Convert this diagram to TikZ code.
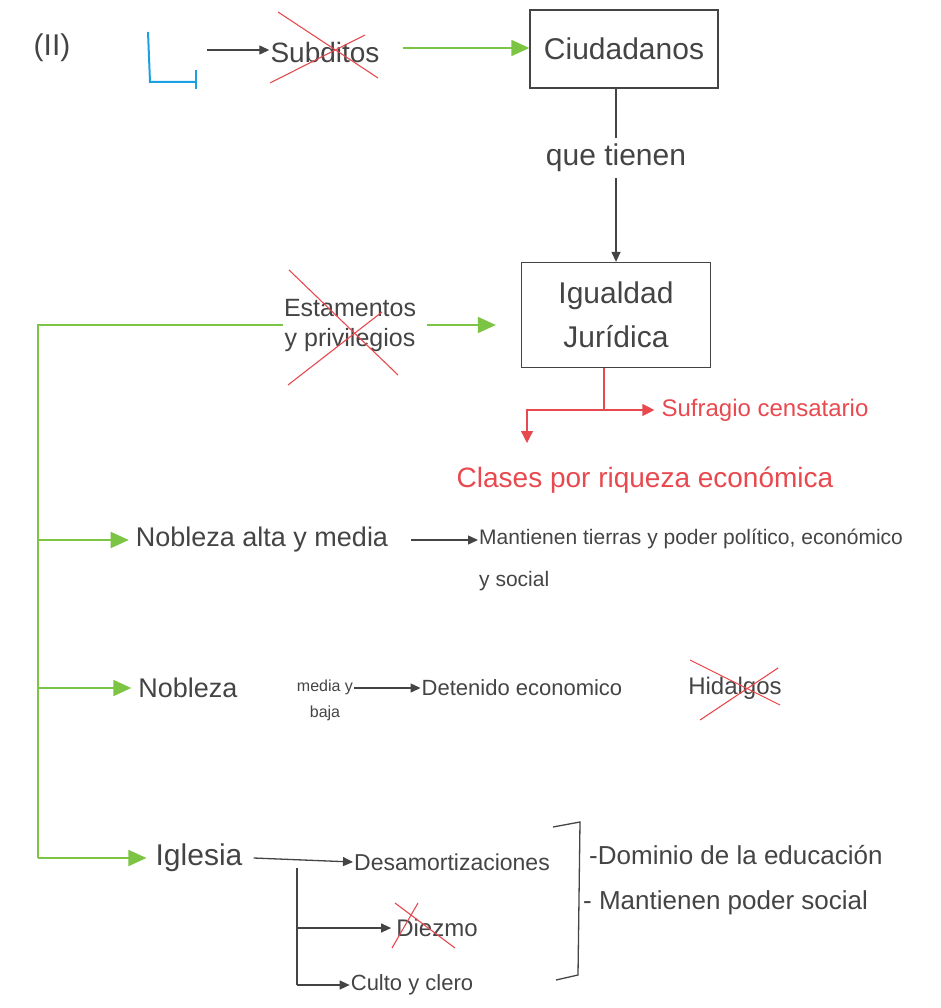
\documentclass[tikz,border=0pt]{standalone}
\usepackage{fontspec}
\setmainfont{Liberation Sans}
\usetikzlibrary{arrows.meta,calc}
\definecolor{ink}{HTML}{444444}
\definecolor{gr}{HTML}{7CC444}
\definecolor{rd}{HTML}{E8494F}
\definecolor{bl}{HTML}{1BA1E2}
\begin{document}
\begin{tikzpicture}[x=1pt,y=-1pt,
  fs/.style={font=\fontsize{#1}{30}\selectfont},
  txt/.style={inner sep=1pt,text=ink},
  rtxt/.style={inner sep=1pt,text=rd},
  boxnode/.style={draw=ink,line width=1.3pt,align=center,text=ink},
  inkline/.style={draw=ink,line width=1.3pt},
  barrow/.style={inkline,-{Triangle[length=10pt,width=9pt]}},
  gline/.style={draw=gr,line width=1.8pt},
  garrow/.style={gline,-{Triangle[length=18pt,width=16pt]}},
  rline/.style={draw=rd,line width=1.3pt},
  rarrow/.style={rline,-{Triangle[length=12pt,width=12pt]}},
  xout/.style={draw=rd,line width=1.1pt}]
\useasboundingbox (0,0) rectangle (941,1008);

% header
\node[txt,fs=30] (num) at (52,48) {(II)};
\draw[draw=bl,line width=2pt] (148,32) -- (150,82) -- (196,82);
\draw[draw=bl,line width=2pt] (196,70) -- (196,89);
\coordinate (Lmark) at (207,50);
\node[txt,fs=28] (subd) at (325,52) {Subditos};
\draw[xout] (278,12) -- (378,78);
\draw[xout] (270,83) -- (365,35);
\draw[barrow] (Lmark) -- (Lmark -| subd.west);

\node[boxnode,fs=30,minimum width=188pt,minimum height=78pt] (ciud) at (624,49) {Ciudadanos};
\path (subd.east) ++(22,-4) coordinate (g0);
\draw[garrow] (g0) -- (g0 -| ciud.west);

\node[boxnode,fs=30,minimum width=189pt,minimum height=105pt] (igual) at (616,315) {Igualdad\\[14pt]Jurídica};
\draw[barrow] (ciud.south -| igual.north) -- node[fill=white,txt,fs=30,pos=0.4,inner sep=6pt] (qt) {que tienen} (igual.north);

% estamentos
\node[txt,fs=25,align=center] (est) at (350,325) {Estamentos\\y privilegios};
\draw[xout] (289,270) -- (398,375);
\draw[xout] (288,385) -- (382,312);
\path (est.east) ++(10,0) coordinate (g1);
\draw[garrow] (g1) -- ([xshift=-25pt]g1 -| igual.west);

% red branch
\node[rtxt,fs=24] (suf) at (765,410) {Sufragio censatario};
\node[rtxt,fs=28] (clases) at (645,480) {Clases por riqueza económica};
\path (igual.south) ++(-12,0) coordinate (rt);
\coordinate (rj) at (rt |- suf.west);
\draw[rline] (rt) -- (rj);
\draw[rarrow] (rj) -- ([xshift=-6pt]suf.west);
\coordinate (cl) at (527,443);
\draw[rarrow] (rj) -- (cl |- rj) -- (cl);

% green trunk
\node[txt,fs=27] (nob1) at (262,540) {Nobleza alta y media};
\node[txt,fs=27] (nob2) at (188,688) {Nobleza};
\node[txt,fs=30] (igl) at (199,858) {Iglesia};
\coordinate (t) at (38,325);
\draw[gline] (est.west) -- (t) -- (t |- igl.west);
\draw[garrow] (t |- igl.west) -- ([xshift=-8pt]igl.west);
\draw[garrow] (t |- nob1.west) -- ([xshift=-6pt]nob1.west);
\draw[garrow] (t |- nob2.west) -- ([xshift=-6pt]nob2.west);

% nobleza alta
\node[txt,fs=21,align=left,anchor=north west] (mant) at (478,528) {Mantienen tierras y poder político, económico\\[12pt]y social};
\draw[barrow] ([xshift=22pt]nob1.east) -- (mant.west |- nob1.east);

% nobleza media y baja
\node[txt,fs=16,align=center] (mb) at (325,700) {media y\\[-4pt]baja};
\node[txt,fs=22] (det) at (522,688) {Detenido economico};
\node[txt,fs=24] (hid) at (735,688) {Hidalgos};
\draw[xout] (690,660) -- (780,705);
\draw[xout] (700,720) -- (778,668);
\draw[barrow] (mb.east |- det.west) -- (det.west);

% iglesia
\node[txt,fs=23] (desa) at (452,862) {Desamortizaciones};
\node[txt,fs=24] (diez) at (437,928) {Diezmo};
\draw[xout] (395,903) -- (455,948);
\draw[xout] (392,948) -- (418,903);
\node[txt,fs=22] (culto) at (412,985) {Culto y clero};
\draw[barrow] ([xshift=10pt]igl.east) -- (desa.west);
\coordinate (vt) at (297,868);
\draw[inkline] (vt) -- (vt |- culto.west);
\draw[barrow] (vt |- diez.west) -- ([xshift=-4pt]diez.west);
\draw[barrow] (vt |- culto.west) -- (culto.west);

% bracket and notes
\draw[inkline] (553,827) -- (580,822) -- (578,975) -- (556,980);
\node[txt,fs=26,anchor=west] (dom) at (588,855) {-Dominio de la educación};
\node[txt,fs=26,anchor=west] (man2) at (582,903) {- Mantienen poder social};
\end{tikzpicture}
\end{document}
